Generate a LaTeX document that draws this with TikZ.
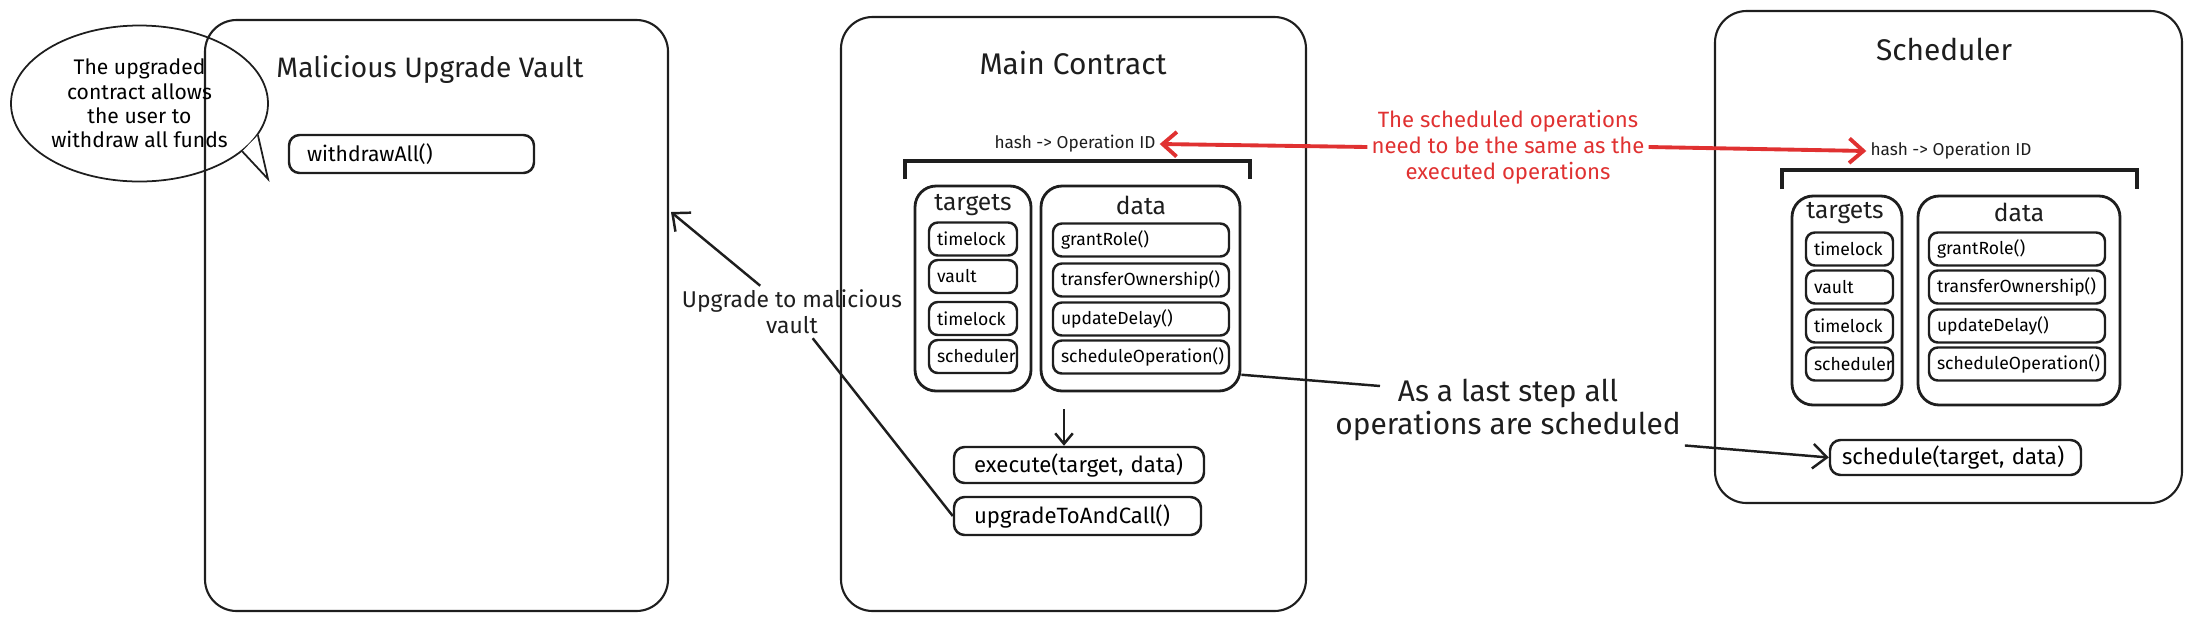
\documentclass[tikz,border=0pt]{standalone}
\usepackage{fontspec}
\setmainfont{Fira Sans}
\usepackage{tikz}
\usetikzlibrary{positioning,arrows.meta,shapes.geometric}

\definecolor{ink}{HTML}{1E1E1E}
\definecolor{inkred}{HTML}{E03131}

\begin{document}
\begin{tikzpicture}[x=1cm,y=-1cm,
  panel/.style={draw=ink, line width=0.6pt, rounded corners=9pt, inner sep=0pt},
  column/.style={draw=ink, line width=0.8pt, rounded corners=6pt, inner sep=0pt},
  slot/.style={draw=ink, line width=0.7pt, rounded corners=2.5pt, inner xsep=0.08cm,
    inner ysep=0pt, minimum height=0.33cm, text width=#1, align=left,
    font=\fontsize{5}{6}\selectfont},
  callbox/.style={draw=ink, line width=0.7pt, rounded corners=3pt, inner ysep=0pt,
    minimum height=0.36cm, align=left, font=\fontsize{6.3}{7.5}\selectfont},
  heading/.style={font=\fontsize{8.5}{10}\selectfont, text=ink},
  colhead/.style={font=\fontsize{7}{8}\selectfont, text=ink},
  hashtxt/.style={font=\fontsize{4.9}{6}\selectfont, text=ink, inner sep=1pt},
  note/.style={align=center, text=ink, inner sep=1pt},
  bracket/.style={draw=ink, line width=1pt},
  inkarrow/.style={draw=ink, line width=0.7pt, -{Straight Barb[length=4pt,width=7pt]}},
  redarrow/.style={draw=inkred, line width=1.1pt, -{Straight Barb[length=4pt,width=7pt]}}]
\useasboundingbox (0,0) rectangle (21.9,6.2);

% malicious vault
\node[panel, minimum width=4.63cm, minimum height=5.91cm] (vault) at (4.365,3.155) {};
\node[heading, font=\fontsize{8}{10}\selectfont] (vaulttitle) at (4.30,0.70) {Malicious Upgrade Vault};
\node[callbox, minimum height=0.38cm, inner xsep=0.18cm, text width=2.09cm,
  font=\fontsize{6}{7}\selectfont] (withdraw) at (4.115,1.54) {withdrawAll()};

% speech bubble
\node[ellipse, draw=ink, line width=0.5pt, minimum width=2.57cm, minimum height=1.56cm,
  inner sep=0pt, align=center, font=\fontsize{6}{6.9}\selectfont] (bubble) at (1.395,1.035)
  {The upgraded\\contract allows\\the user to\\withdraw all funds};
\coordinate (bubtip) at (2.68,1.79);
\draw[draw=ink, line width=0.5pt, fill=white] (bubble.-25) -- (bubtip) -- (bubble.-15);

% main contract
\node[panel, minimum width=4.65cm, minimum height=5.94cm] (main) at (10.735,3.14) {};
\node[heading] (maintitle) at (10.73,0.63) {Main Contract};
\node[hashtxt] (hashA) at (10.75,1.44) {hash -> Operation ID};
\draw[bracket] (9.05,1.79) -- (9.05,1.61) -- (12.50,1.61) -- (12.50,1.79);

\node[column, minimum width=1.16cm, minimum height=2.05cm] (tgtA) at (9.73,2.885) {};
\node[colhead] (tgtheadA) at (9.73,2.05) {targets};
\node[slot=0.72cm] (tgtA1) at (9.73,2.39) {timelock};
\node[slot=0.72cm] (tgtA2) at (9.73,2.765) {vault};
\node[slot=0.72cm] (tgtA3) at (9.73,3.185) {timelock};
\node[slot=0.72cm] (tgtA4) at (9.73,3.565) {scheduler};

\node[column, minimum width=1.99cm, minimum height=2.05cm] (colA) at (11.405,2.885) {};
\node[colhead] (dataheadA) at (11.41,2.05) {data};
\node[slot=1.60cm] (opA1) at (11.41,2.40) {grantRole()};
\node[slot=1.60cm] (opA2) at (11.41,2.80) {transferOwnership()};
\node[slot=1.60cm] (opA3) at (11.41,3.19) {updateDelay()};
\node[slot=1.60cm] (opA4) at (11.41,3.57) {scheduleOperation()};

\coordinate (downA) at (10.64,4.09);
\node[callbox, inner xsep=0.20cm, text width=2.10cm] (execute) at (10.79,4.65) {execute(target, data)};
\node[callbox, minimum height=0.38cm, inner xsep=0.20cm, text width=2.07cm] (upgrade) at (10.775,5.16) {upgradeToAndCall()};
\draw[inkarrow, -{Straight Barb[length=3pt,width=5pt]}] (downA) -- (downA |- execute.north);

% scheduler
\node[panel, minimum width=4.67cm, minimum height=4.92cm] (sched) at (19.485,2.57) {};
\node[heading] (schedtitle) at (19.44,0.49) {Scheduler};
\node[hashtxt] (hashB) at (19.51,1.51) {hash -> Operation ID};
\draw[bracket] (17.82,1.89) -- (17.82,1.70) -- (21.37,1.70) -- (21.37,1.89);

\node[column, minimum width=1.10cm, minimum height=2.09cm] (tgtB) at (18.47,3.005) {};
\node[colhead] (tgtheadB) at (18.45,2.13) {targets};
\node[slot=0.71cm] (tgtB1) at (18.495,2.49) {timelock};
\node[slot=0.71cm] (tgtB2) at (18.495,2.87) {vault};
\node[slot=0.71cm] (tgtB3) at (18.495,3.26) {timelock};
\node[slot=0.71cm] (tgtB4) at (18.495,3.64) {scheduler};

\node[column, minimum width=2.02cm, minimum height=2.09cm] (colB) at (20.19,3.005) {};
\node[colhead] (dataheadB) at (20.19,2.12) {data};
\node[slot=1.60cm] (opB1) at (20.17,2.49) {grantRole()};
\node[slot=1.60cm] (opB2) at (20.17,2.87) {transferOwnership()};
\node[slot=1.60cm] (opB3) at (20.17,3.26) {updateDelay()};
\node[slot=1.60cm] (opB4) at (20.17,3.64) {scheduleOperation()};

\node[callbox, minimum height=0.35cm, inner xsep=0.12cm, text width=2.27cm] (schedule) at (19.555,4.575) {schedule(target, data)};

% notes and connectors
\node[note, text=inkred, font=\fontsize{6.3}{7.4}\selectfont] (sametxt) at (15.08,1.47)
  {The scheduled operations\\need to be the same as the\\executed operations};
\draw[redarrow] (sametxt.west) -- (hashA.east);
\draw[redarrow] (sametxt.east) -- (hashB.west);

\node[note, font=\fontsize{8.5}{9.6}\selectfont] (laststep) at (15.08,4.10)
  {As a last step all\\operations are scheduled};
\coordinate (laststart) at (13.80,3.86);
\draw[draw=ink, line width=0.7pt] (colA.east |- opA4.south) -- (laststart);
\draw[inkarrow] (laststep.south east) -- (schedule.west);

\node[note, font=\fontsize{6.5}{7.4}\selectfont] (upglbl) at (7.92,3.12)
  {Upgrade to malicious\\vault};
\coordinate (vaulttip) at (6.71,2.12);
\draw[inkarrow] (upgrade.west) -- (upglbl) -- (vaulttip);
\end{tikzpicture}
\end{document}
